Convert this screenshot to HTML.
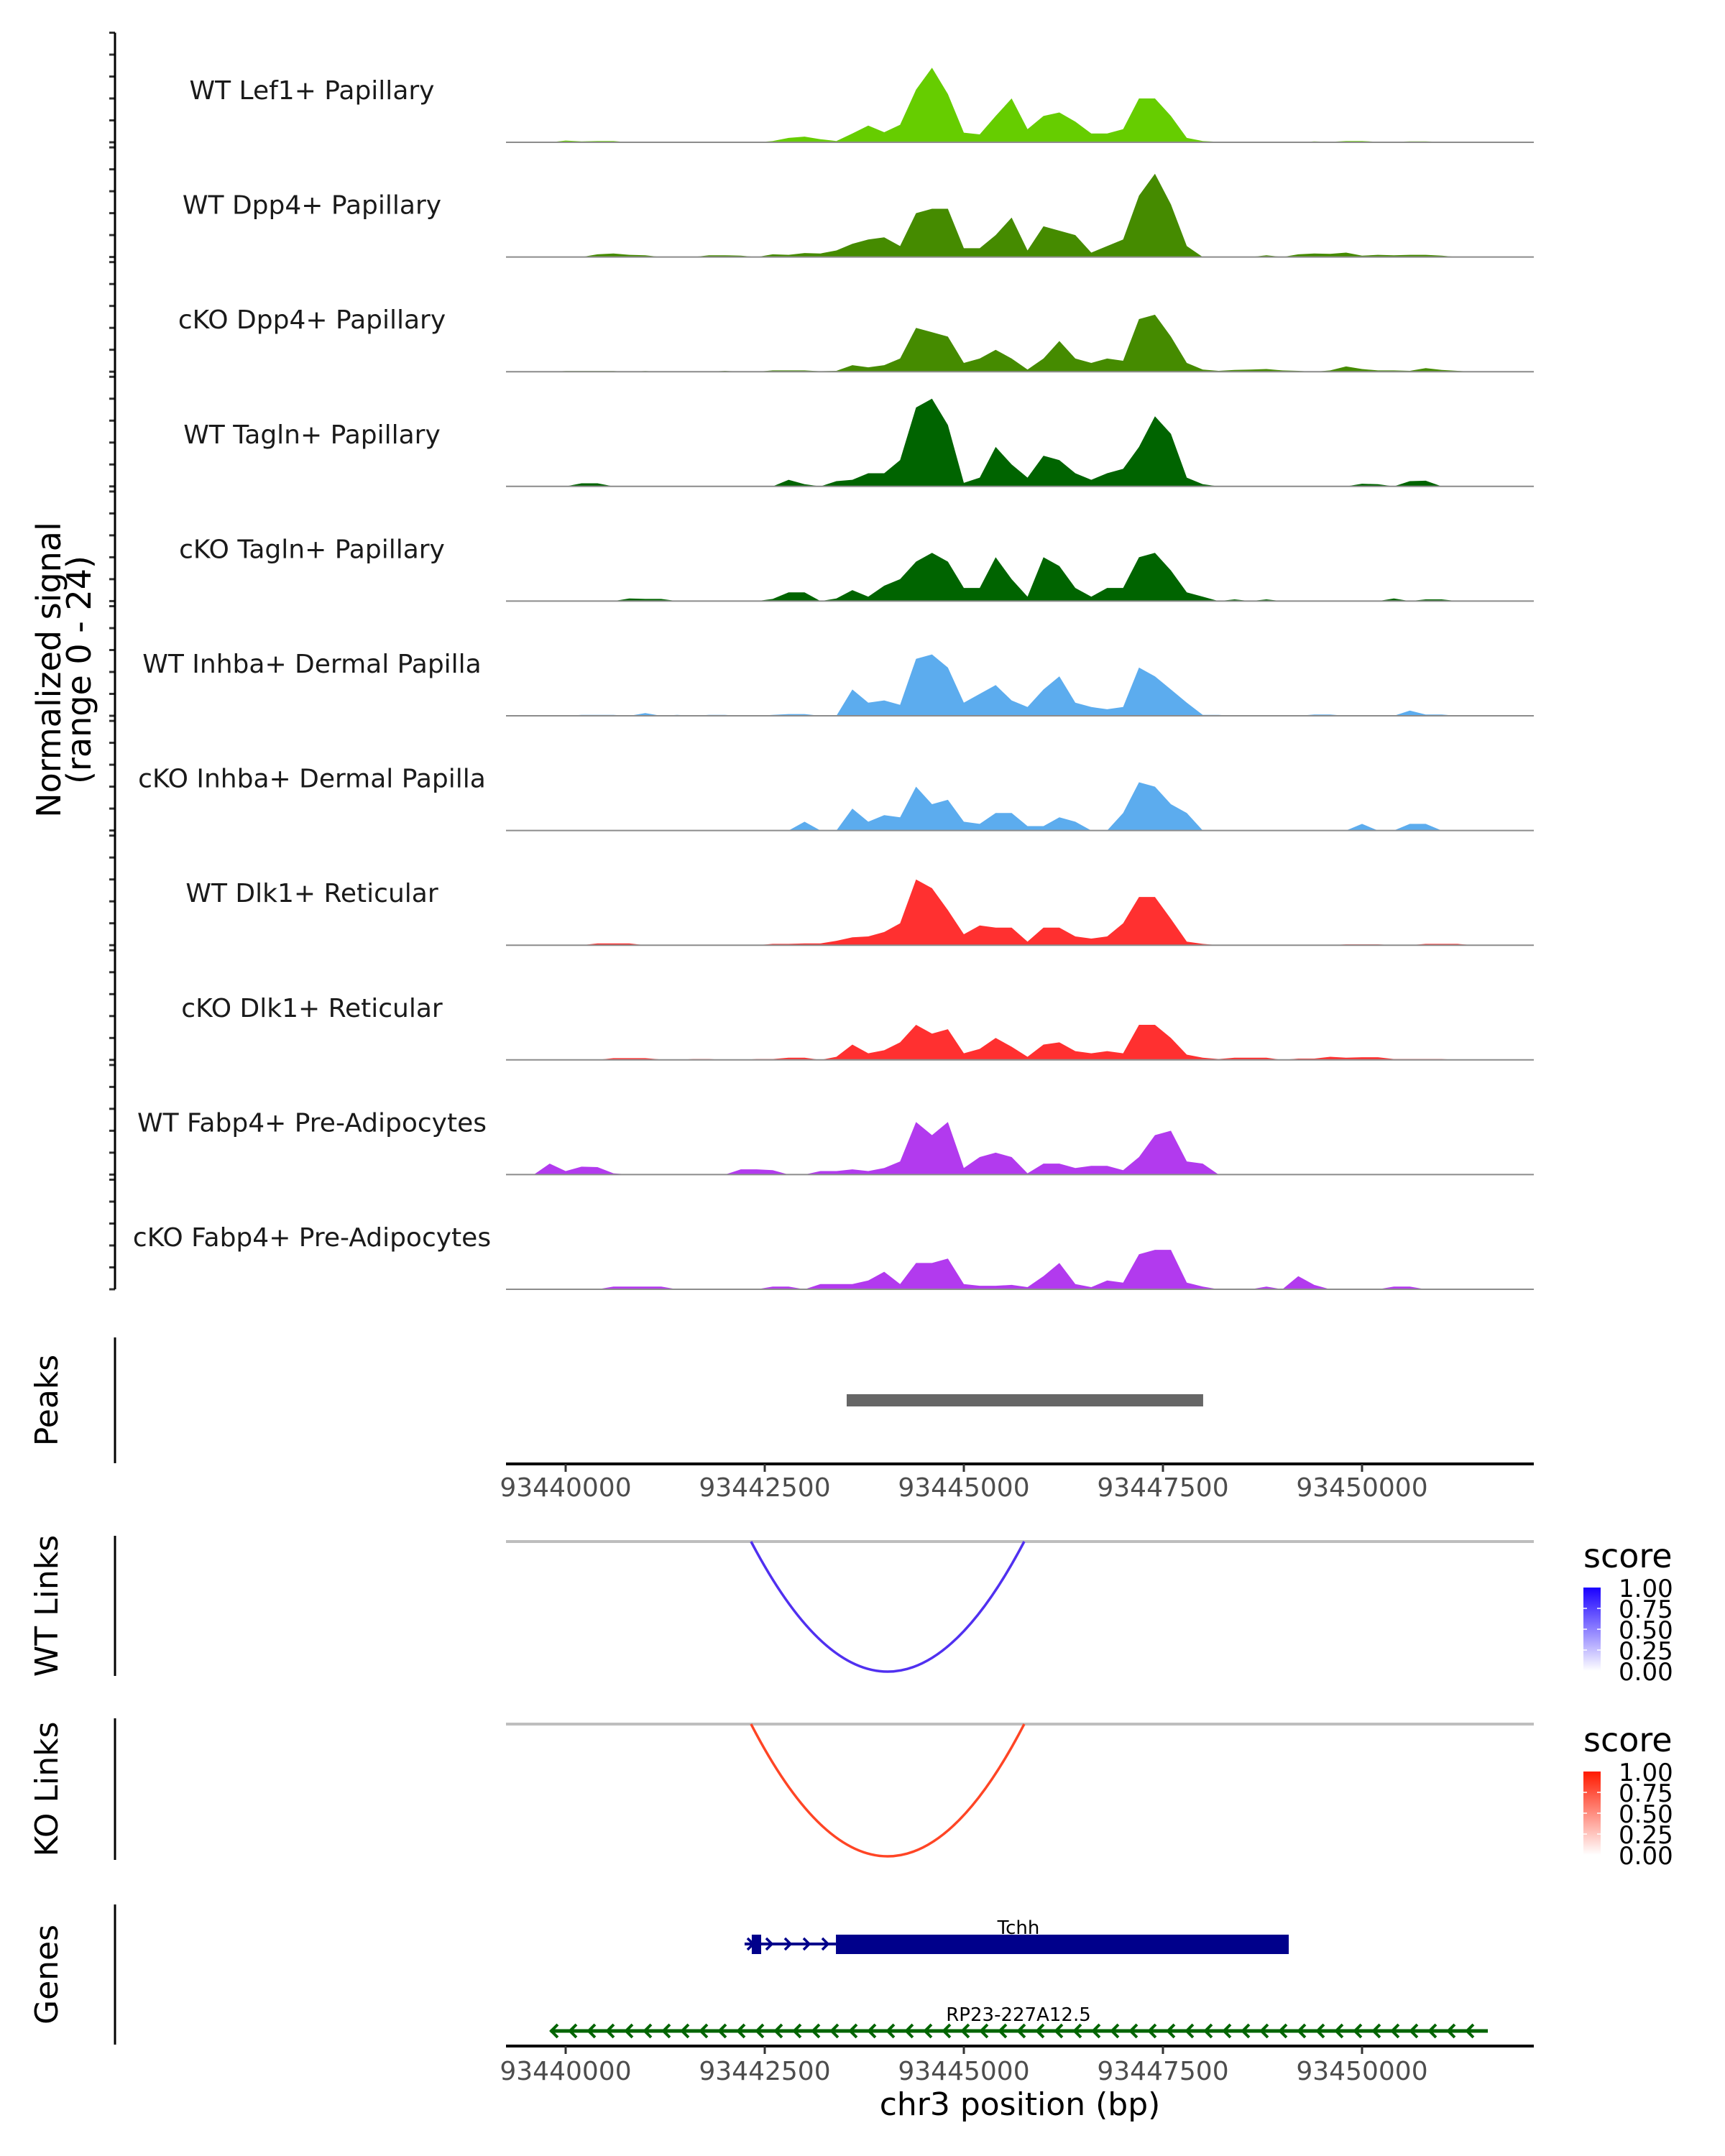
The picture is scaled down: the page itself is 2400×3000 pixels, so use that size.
<!DOCTYPE html>
<html><head><meta charset="utf-8"><style>
html,body{margin:0;padding:0;background:#fff;}
svg{display:block;font-family:"DejaVu Sans","Liberation Sans",sans-serif;}
</style></head><body>
<svg id="fig" width="2400" height="3000" viewBox="0 0 2400 3000" xmlns="http://www.w3.org/2000/svg">
<defs>
<linearGradient id="gBlue" x1="0" y1="1" x2="0" y2="0"><stop offset="0" stop-color="#ffffff"/><stop offset="1" stop-color="#1a00ff"/></linearGradient>
<linearGradient id="gRed" x1="0" y1="1" x2="0" y2="0"><stop offset="0" stop-color="#ffffff"/><stop offset="1" stop-color="#ff1a00"/></linearGradient>
<clipPath id="plotClip"><rect x="704" y="0" width="1430" height="3000"/></clipPath>
</defs>
</svg>
<script>
// ---- data ----
const trackNames = ["WT Lef1+ Papillary","WT Dpp4+ Papillary","cKO Dpp4+ Papillary","WT Tagln+ Papillary","cKO Tagln+ Papillary","WT Inhba+ Dermal Papilla","cKO Inhba+ Dermal Papilla","WT Dlk1+ Reticular","cKO Dlk1+ Reticular","WT Fabp4+ Pre-Adipocytes","cKO Fabp4+ Pre-Adipocytes"];
const trackColors = ["#66CD00","#458B00","#458B00","#006400","#006400","#5CACEE","#5CACEE","#FF3030","#FF3030","#B23AEE","#B23AEE"];
const binStart = 93439300;
const binWidth = 200;
const lef1WT = [0,0,0,0.4,0.2,0.3,0.3,0,0,0, 0,0,0,0.1,0,0,0.3,1.0,1.3,0.7, 0.3,2.0,3.8,2.3,4.0,12,17,11,2.2,1.8, 6,10,3,6,6.8,4.7,2,2,3,10, 10,6,1,0.3,0.1,0.1,0,0.1,0,0, 0.2,0.1,0.3,0.3,0.1,0.1,0.2,0.2,0.1,0.1, 0,0,0];
const dpp4WT = [0,0,0,0,0,0.6,0.8,0.5,0.4,0, 0,0,0.4,0.4,0.3,0,0.6,0.5,0.9,0.8, 1.5,3,4,4.5,2.5,10,11,11,2,2, 5,9,1.5,7,6,5,1,2.5,4,14, 19,12,2.5,0,0,0,0,0.4,0,0.6, 0.8,0.7,1.0,0.3,0.5,0.4,0.5,0.5,0.3,0, 0,0,0];
const dpp4KO = [0,0,0,0.15,0.15,0.15,0.15,0,0.15,0, 0,0.1,0,0.2,0,0,0.3,0.3,0.3,0.1, 0.2,1.5,1.0,1.5,3,10,9,8,2,3, 5,3,0.5,3,7,3,2,3,2.5,12, 13,8,2,0.5,0.2,0.4,0.5,0.6,0.3,0.2, 0,0.3,1.2,0.6,0.3,0.3,0.2,0.8,0.4,0.2, 0,0,0];
const taglnWT = [0,0,0,0,0.7,0.7,0,0,0,0, 0,0,0,0,0,0,0,1.5,0.5,0, 1.2,1.5,3,3,6,18,20,14,0.8,2, 9,5,2,7,6,3,1.5,3,4,9, 16,12,2,0.5,0,0,0,0,0,0, 0,0,0,0.6,0.5,0,1.2,1.3,0,0, 0,0,0];
const taglnKO = [0,0,0.1,0,0,0,0,0.6,0.5,0.5, 0,0,0,0,0,0,0.5,2,2,0, 0.6,2.5,1,3.5,5,9,11,9,3,3, 10,5,1,10,8,3,1,3,3,10, 11,7,2,1,0,0.4,0,0.4,0,0, 0,0,0,0,0,0.6,0,0.4,0.4,0, 0,0,0];
const inhbaWT = [0,0,0,0,0.2,0.2,0.2,0,0.6,0, 0.2,0,0.2,0.2,0,0,0.2,0.4,0.4,0, 0,6,3,3.5,2.5,13,14,11,3,5, 7,3.5,2,6,9,3,2,1.5,2,11, 9,6,3,0.2,0.2,0,0,0,0,0, 0.3,0.3,0,0,0,0,1.2,0.3,0.3,0, 0,0,0];
const inhbaKO = [0,0,0,0,0,0,0,0,0,0, 0,0,0,0,0,0,0,0,2,0, 0,5,2,3.5,3,10,6,7,2,1.5, 4,4,1,1,3,2,0,0,4,11, 10,6,4,0,0,0,0,0,0,0, 0,0,0,1.5,0,0,1.5,1.5,0,0, 0,0,0];
const dlk1WT = [0,0,0,0,0,0.4,0.4,0.4,0,0, 0,0,0,0,0,0,0.3,0.3,0.4,0.4, 1,1.8,2,3,5,15,13,8,2.5,4.5, 4,4,0.8,4,4,2,1.5,2,5,11, 11,6,0.8,0.3,0,0,0,0,0,0, 0,0,0.2,0.2,0.2,0,0,0.3,0.3,0.3, 0,0,0];
const dlk1KO = [0,0,0,0.1,0,0,0.4,0.4,0.4,0.1, 0,0.2,0.2,0,0,0.2,0.2,0.5,0.5,0, 0.7,3.5,1.5,2.2,4,8,6,7,1.5,2.5, 5,3,0.7,3.5,4,2,1.5,2,1.5,8, 8,5,1.2,0.5,0.2,0.5,0.5,0.5,0,0.3, 0.3,0.7,0.5,0.6,0.6,0.2,0.2,0.2,0.2,0, 0,0,0];
const fabp4WT = [0,0,2.5,0.8,1.8,1.7,0.3,0,0,0, 0,0,0,0,1.2,1.2,1,0,0,0.8, 0.8,1.2,0.8,1.5,3,12,9,12,1.5,4, 5,4,0.3,2.5,2.5,1.5,2,2,1,4, 9,10,3,2.5,0,0,0,0,0,0, 0,0,0,0,0,0,0,0,0,0, 0,0,0];
const fabp4KO = [0,0,0,0,0,0,0.6,0.6,0.6,0.6, 0,0,0,0,0,0,0.6,0.6,0,1.2, 1.2,1.2,2,4,1.2,6,6,7,1.2,0.8, 0.8,1,0.5,3,6,1.2,0.5,2,1.5,8, 9,9,1.5,0.6,0,0,0,0.6,0,3, 1,0,0,0,0,0.6,0.6,0,0,0, 0,0,0];
const trackValues = [lef1WT,dpp4WT,dpp4KO,taglnWT,taglnKO,inhbaWT,inhbaKO,dlk1WT,dlk1KO,fabp4WT,fabp4KO];
const xTicks = [93440000,93442500,93445000,93447500,93450000];
const yTickValues = [0,5,10,15,20,25];
const peakRanges = [[93443529,93448005]];
const wtLinks = [[93442328,93445758,0.85]];
const koLinks = [[93442328,93445758,0.85]];
const legendTicks = ["1.00","0.75","0.50","0.25","0.00"];
const legendTickValues = [1,0.75,0.5,0.25,0];
const tchhThin = [93442247,93443394];
const tchhSmall = [93442337,93442455];
const tchhThick = [93443394,93449080];
const rpGene = [93439810,93451580];

// ---- scales ----
const X0 = 704, X1 = 2134, BP0 = 93439251, PXBP = 0.1108;
function xs(bp){ return X0 + (bp - BP0) * PXBP; }
const base0 = 198, trackStep = 159.6, pxPerUnit = 6.1;
function trackBase(i){ return base0 + i * trackStep; }
function ys(i, v){ return trackBase(i) - v * pxPerUnit; }

const NS = "http://www.w3.org/2000/svg";
const svg = document.getElementById("fig");
function mk(tag, attrs, parent){
  const e = document.createElementNS(NS, tag);
  for (const k in attrs) e.setAttribute(k, attrs[k]);
  (parent || svg).appendChild(e);
  return e;
}

// ---- coverage tracks ----
const gTracks = mk("g", {"clip-path":"url(#plotClip)"});


trackValues.forEach((vals, i) => {
  const b = trackBase(i);
  let d = "M" + xs(binStart).toFixed(1) + "," + b;
  vals.forEach((v, j) => {
    const cx = xs(binStart + binWidth * j + binWidth / 2);
    d += " L" + cx.toFixed(1) + "," + ys(i, v).toFixed(1);
  });
  d += " L" + xs(binStart + binWidth * vals.length).toFixed(1) + "," + b + " Z";
  const area = mk("path", {d: d, fill: trackColors[i], stroke: "none"}, gTracks);
  
  
  const bl = mk("line", {x1: X0, x2: X1, y1: b, y2: b, stroke: "#8c8c8c", "stroke-width": 2}, gTracks);
  
  
  const lab = mk("text", {x: 434, y: b - 60, "text-anchor": "middle", "font-size": 36, fill: "#1a1a1a"}, svg);
  lab.textContent = trackNames[i];
  
  
  yTickValues.forEach(t => {
    const yy = ys(i, t);
    const tk = mk("line", {x1: 152, x2: 160, y1: yy, y2: yy, stroke: "#333", "stroke-width": 3});
    
    
  });
});
const yAxis = mk("line", {x1: 160, x2: 160, y1: ys(0, 25), y2: trackBase(10), stroke: "#000", "stroke-width": 3});


const yt1 = mk("text", {transform: "translate(84,932) rotate(-90)", "text-anchor": "middle", "font-size": 46, fill: "#000"});
yt1.textContent = "Normalized signal";


const yt2 = mk("text", {transform: "translate(126,932) rotate(-90)", "text-anchor": "middle", "font-size": 46, fill: "#000"});
yt2.textContent = "(range 0 - 24)";



// ---- side panel labels/axes ----
function sidePanel(label, y1, y2, name){
  const ax = mk("line", {x1: 160, x2: 160, y1: y1, y2: y2, stroke: "#000", "stroke-width": 3});
  
  
  const t = mk("text", {transform: "translate(80," + ((y1 + y2) / 2) + ") rotate(-90)", "text-anchor": "middle", "font-size": 44, fill: "#000"});
  t.textContent = label;
  
  
}
sidePanel("Peaks", 1861, 2036, "peaks");
sidePanel("WT Links", 2137, 2332, "wt-links");
sidePanel("KO Links", 2391, 2588, "ko-links");
sidePanel("Genes", 2650, 2845, "genes");

// ---- peaks ----
peakRanges.forEach(p => {
  const r = mk("rect", {x: xs(p[0]), y: 1940, width: xs(p[1]) - xs(p[0]), height: 17, fill: "#666666"});
  
  
});

// ---- x axes ----
function xAxis(y, labY, name){
  const l = mk("line", {x1: X0, x2: X1, y1: y, y2: y, stroke: "#000", "stroke-width": 4});
  
  
  xTicks.forEach(t => {
    const tk = mk("line", {x1: xs(t), x2: xs(t), y1: y, y2: y + 11, stroke: "#333", "stroke-width": 3});
    
    
    const tl = mk("text", {x: xs(t), y: labY, "text-anchor": "middle", "font-size": 36, fill: "#4d4d4d"});
    tl.textContent = String(t);
    
    
  });
}
xAxis(2037, 2082, "peaks-x-axis");
xAxis(2847, 2894, "genes-x-axis");
const xt = mk("text", {x: 1419, y: 2943, "text-anchor": "middle", "font-size": 44, fill: "#000"});
xt.textContent = "chr3 position (bp)";



// ---- links ----
function linkPanel(links, topY, bottomY, color, name){
  const gl = mk("line", {x1: X0, x2: X1, y1: topY, y2: topY, stroke: "#bebebe", "stroke-width": 4});
  
  
  links.forEach(lk => {
    const a = xs(lk[0]), b = xs(lk[1]);
    const c = 2 * bottomY - topY;
    const p = mk("path", {d: "M" + a + "," + topY + " Q" + ((a + b) / 2) + "," + c + " " + b + "," + topY, fill: "none", stroke: color, "stroke-width": 3.5});
    
    
  });
}
linkPanel(wtLinks, 2145, 2326, "#5030F0", "wt-link");
linkPanel(koLinks, 2399, 2583, "#FF4525", "ko-link");

// ---- legends ----
function legend(top, grad, name){
  const t = mk("text", {x: 2203, y: top - 28, "font-size": 46, fill: "#000"});
  t.textContent = "score";
  
  
  const h = 116;
  const r = mk("rect", {x: 2203, y: top, width: 24, height: h, fill: "url(#" + grad + ")"});
  
  
  legendTickValues.forEach((v, k) => {
    const yy = top + (1 - v) * h;
    if (v > 0 && v < 1) {
      const m1 = mk("line", {x1: 2203, x2: 2208, y1: yy, y2: yy, stroke: "#fff", "stroke-width": 1.5});
      
      
      const m2 = mk("line", {x1: 2222, x2: 2227, y1: yy, y2: yy, stroke: "#fff", "stroke-width": 1.5});
      
      
    }
    const l = mk("text", {x: 2252, y: yy + 13, "font-size": 34, fill: "#000"});
    l.textContent = legendTicks[k];
    
    
  });
}
legend(2209, "gBlue", "wt-legend");
legend(2465, "gRed", "ko-legend");

// ---- genes ----
const tchhY = 2705;
const tl1 = mk("line", {x1: xs(tchhThin[0]), x2: xs(tchhThin[1]), y1: tchhY, y2: tchhY, stroke: "#00008B", "stroke-width": 4});


const tb1 = mk("rect", {x: xs(tchhSmall[0]), y: 2692, width: xs(tchhSmall[1]) - xs(tchhSmall[0]), height: 27, fill: "#00008B"});


const tb2 = mk("rect", {x: xs(tchhThick[0]), y: 2692, width: xs(tchhThick[1]) - xs(tchhThick[0]), height: 27, fill: "#00008B"});


for (let x = xs(tchhThin[0]) + 4; x < xs(tchhThin[1]) - 10; x += 26) {
  const c = mk("path", {d: "M" + (x) + "," + (tchhY - 8) + " L" + (x + 8) + "," + tchhY + " L" + x + "," + (tchhY + 8), fill: "none", stroke: "#00008B", "stroke-width": 3.5});
  
  
}
const tt = mk("text", {x: 1417, y: 2691, "text-anchor": "middle", "font-size": 26, fill: "#000"});
tt.textContent = "Tchh";



const rpY = 2826;
const rl = mk("line", {x1: xs(rpGene[0]), x2: xs(rpGene[1]), y1: rpY, y2: rpY, stroke: "#006400", "stroke-width": 5});


for (let x = xs(rpGene[0]) + 1; x < xs(rpGene[1]) - 15; x += 26) {
  const c = mk("path", {d: "M" + (x + 9) + "," + (rpY - 9) + " L" + x + "," + rpY + " L" + (x + 9) + "," + (rpY + 9), fill: "none", stroke: "#006400", "stroke-width": 4});
  
  
}
const rt = mk("text", {x: 1417, y: 2812, "text-anchor": "middle", "font-size": 26, fill: "#000"});
rt.textContent = "RP23-227A12.5";


</script>
</body></html>
